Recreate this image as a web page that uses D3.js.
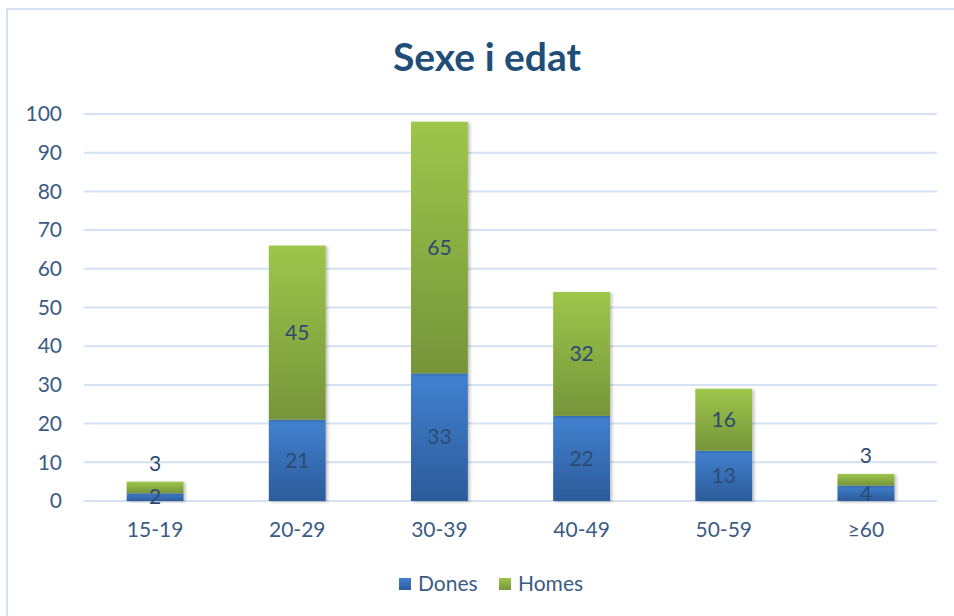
<!DOCTYPE html>
<html>
<head>
<meta charset="utf-8">
<script src="https://cdn.jsdelivr.net/npm/d3@7"></script>
<style>
  body { margin: 0; background: #fff; }
  svg { display: block; font-family: Lato, "Open Sans", sans-serif; }
</style>
</head>
<body>
<div id="chart"></div>
<script>
// chart data
var categories = ["15-19", "20-29", "30-39", "40-49", "50-59", "\u226560"];
var dones = [2, 21, 33, 22, 13, 4];
var homes = [3, 45, 65, 32, 16, 3];
var seriesNames = ["Dones", "Homes"];
var yTicks = [0, 10, 20, 30, 40, 50, 60, 70, 80, 90, 100];

var width = 954, height = 616;
var margin = {top: 114, right: 17, bottom: 115, left: 84};
var fontSize = 21;
var textColor = "#3B5B84";

var svg = d3.select("#chart").append("svg")
  .attr("width", width)
  .attr("height", height);

// gradients, excel style
var defs = svg.append("defs");
var grads = [
  {id: "gBlue", top: "#4281D0", bottom: "#2C5B9A"},
  {id: "gGreen", top: "#9DC64B", bottom: "#76953A"}
];
grads.forEach(function(g){
  var lg = defs.append("linearGradient").attr("id", g.id)
    .attr("x1", 0).attr("y1", 0).attr("x2", 0).attr("y2", 1);
  lg.append("stop").attr("offset", "0%").attr("stop-color", g.top);
  lg.append("stop").attr("offset", "100%").attr("stop-color", g.bottom);
});
var shadow = defs.append("filter").attr("id", "shadow")
  .attr("x", "-20%").attr("y", "-20%").attr("width", "140%").attr("height", "140%");
shadow.append("feDropShadow").attr("dx", 2).attr("dy", 1)
  .attr("stdDeviation", 1.5).attr("flood-color", "#000").attr("flood-opacity", 0.25);

// outer frame (clipped by window at right/bottom)
svg.append("rect")
  .attr("x", 7).attr("y", 9)
  .attr("width", 1000).attr("height", 1000)
  .attr("fill", "none")
  .attr("stroke", "#D5E2F3")
  .attr("stroke-width", 2);

svg.append("text")
  .attr("x", 487).attr("y", 71)
  .attr("text-anchor", "middle")
  .attr("font-size", 39)
  .attr("font-weight", "bold")
  .attr("fill", "#1F4E79")
  .text("Sexe i edat");

var x = d3.scaleBand()
  .domain(categories)
  .range([margin.left, width - margin.right])
  .paddingInner(0.6)
  .paddingOuter(0.3);

var y = d3.scaleLinear()
  .domain([0, 100])
  .range([height - margin.bottom, margin.top]);

// gridlines
svg.append("g")
  .selectAll("line")
  .data(yTicks)
  .join("line")
  .attr("x1", margin.left).attr("x2", width - margin.right)
  .attr("y1", function(d){ return y(d); })
  .attr("y2", function(d){ return y(d); })
  .attr("stroke", "#D5E2F3")
  .attr("stroke-width", 2);

// y axis
var yAxis = svg.append("g")
  .attr("transform", "translate(" + (margin.left - 22) + ",0)")
  .call(d3.axisLeft(y).tickValues(yTicks).tickSize(0).tickPadding(0));
yAxis.select(".domain").remove();
yAxis.selectAll("text")
  .attr("font-size", fontSize)
  .attr("font-family", "Lato, sans-serif")
  .attr("fill", textColor);

// x axis
var xAxis = svg.append("g")
  .attr("transform", "translate(0," + (height - margin.bottom + 21) + ")")
  .call(d3.axisBottom(x).tickSize(0).tickPadding(0));
xAxis.select(".domain").remove();
xAxis.selectAll("text")
  .attr("font-size", fontSize)
  .attr("font-family", "Lato, sans-serif")
  .attr("fill", textColor);

// stacked bars
var rows = categories.map(function(c, i){
  return {cat: c, Dones: dones[i], Homes: homes[i]};
});
var stack = d3.stack().keys(seriesNames)(rows);
var fills = {Dones: "url(#gBlue)", Homes: "url(#gGreen)"};

var layers = svg.append("g").selectAll("g")
  .data(stack)
  .join("g")
  .attr("fill", function(d){ return fills[d.key]; });

layers.selectAll("rect")
  .data(function(d){ return d; })
  .join("rect")
  .attr("x", function(d){ return x(d.data.cat); })
  .attr("width", x.bandwidth())
  .attr("y", function(d){ return y(d[1]); })
  .attr("height", function(d){ return y(d[0]) - y(d[1]); })
  .attr("filter", "url(#shadow)");

// data labels
var labels = svg.append("g");
stack.forEach(function(layer){
  layer.forEach(function(d){
    var h = y(d[0]) - y(d[1]);
    var cy = (y(d[0]) + y(d[1])) / 2;
    // tiny top segments get their label above the bar
    if (layer.key == "Homes" && h < 15) cy = y(d[1]) - 18;
    labels.append("text")
      .attr("x", x(d.data.cat) + x.bandwidth() / 2)
      .attr("y", cy)
      .attr("dy", "0.35em")
      .attr("text-anchor", "middle")
      .attr("font-size", fontSize)
      .attr("fill", "#2D4B72")
      .text(d[1] - d[0]);
  });
});

// legend
var legend = svg.append("g").attr("transform", "translate(399,584)");
var lx = [0, 100];
seriesNames.forEach(function(name, i){
  var g = legend.append("g").attr("transform", "translate(" + lx[i] + ",0)");
  g.append("rect").attr("x", 0).attr("y", -6).attr("width", 12).attr("height", 12)
    .attr("fill", fills[name]);
  g.append("text").attr("x", 19).attr("y", 0).attr("dy", "0.35em")
    .attr("font-size", fontSize).attr("fill", textColor).text(name);
});
</script>
</body>
</html>
